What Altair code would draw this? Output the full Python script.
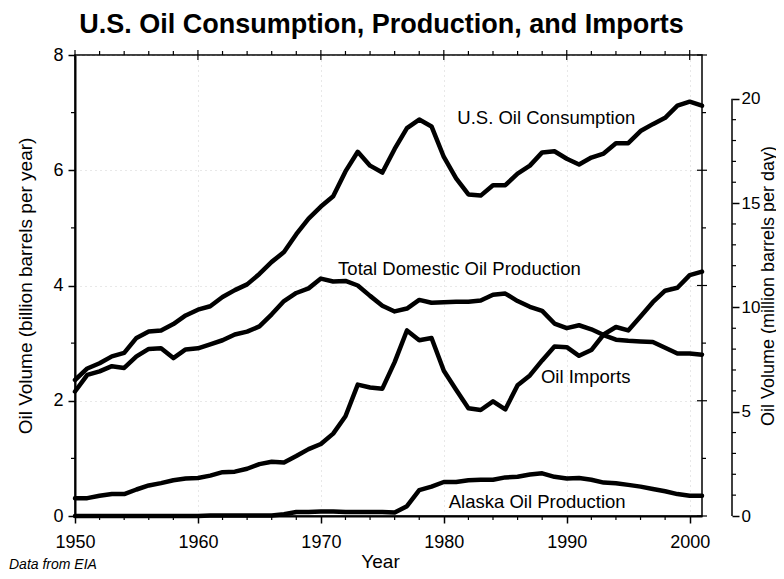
import altair as alt
import pandas as pd

# ---------------- data (billion barrels per year) ----------------
years = list(range(1950, 2002))
consumption = [2.36, 2.56, 2.65, 2.77, 2.83, 3.09, 3.20, 3.22, 3.33, 3.48,
               3.58, 3.64, 3.80, 3.92, 4.02, 4.20, 4.41, 4.58, 4.89, 5.16,
               5.37, 5.55, 5.98, 6.32, 6.08, 5.96, 6.37, 6.73, 6.88, 6.76,
               6.23, 5.86, 5.58, 5.56, 5.74, 5.74, 5.94, 6.08, 6.31, 6.33,
               6.20, 6.10, 6.22, 6.29, 6.47, 6.47, 6.68, 6.80, 6.91, 7.12,
               7.19, 7.12]
production = [2.16, 2.45, 2.51, 2.60, 2.57, 2.77, 2.90, 2.91, 2.74, 2.89,
              2.91, 2.98, 3.05, 3.15, 3.20, 3.29, 3.50, 3.73, 3.87, 3.95,
              4.12, 4.07, 4.08, 4.00, 3.82, 3.65, 3.55, 3.60, 3.75, 3.70,
              3.71, 3.72, 3.72, 3.74, 3.84, 3.86, 3.73, 3.63, 3.56, 3.34,
              3.26, 3.31, 3.24, 3.14, 3.06, 3.04, 3.03, 3.02, 2.92, 2.82,
              2.82, 2.80]
imports = [0.31, 0.31, 0.35, 0.38, 0.38, 0.46, 0.53, 0.57, 0.62, 0.65,
           0.66, 0.70, 0.76, 0.77, 0.82, 0.90, 0.94, 0.93, 1.04, 1.16,
           1.25, 1.43, 1.73, 2.28, 2.23, 2.21, 2.67, 3.22, 3.05, 3.09,
           2.52, 2.19, 1.87, 1.84, 1.99, 1.85, 2.27, 2.44, 2.70, 2.94,
           2.93, 2.78, 2.88, 3.15, 3.28, 3.22, 3.46, 3.71, 3.91, 3.96,
           4.18, 4.24]
alaska = [0.00, 0.00, 0.00, 0.00, 0.00, 0.00, 0.00, 0.00, 0.00, 0.00,
          0.00, 0.01, 0.01, 0.01, 0.01, 0.01, 0.01, 0.03, 0.07, 0.07,
          0.08, 0.08, 0.07, 0.07, 0.07, 0.07, 0.06, 0.17, 0.45, 0.51,
          0.59, 0.59, 0.62, 0.63, 0.63, 0.67, 0.68, 0.72, 0.74, 0.68,
          0.65, 0.66, 0.63, 0.58, 0.57, 0.54, 0.51, 0.47, 0.43, 0.38,
          0.35, 0.35]

series_names = ["Consumption", "Production", "Imports", "Alaska"]

label_texts = ["U.S. Oil Consumption", "Total Domestic Oil Production",
               "Oil Imports", "Alaska Oil Production"]
label_years = [1981.1, 1971.4, 1987.9, 1980.4]
label_values = [6.80, 4.19, 2.31, 0.14]

x_major = [1950, 1960, 1970, 1980, 1990, 2000]
x_minor = [yr for yr in range(1952, 2001, 2) if yr % 10 != 0]
y_major = [0, 2, 4, 6, 8]
y_minor = [1, 3, 5, 7]
right_major = [0, 5, 10, 15, 20]
right_minor = [v for v in range(1, 20) if v % 5 != 0]
RIGHT_MAX = 22.1  # million barrels/day at top of plot

# ---------------- layout ----------------
W, H = 627, 461
FONT = "Liberation Sans"

df = pd.DataFrame({
    "year": years * 4,
    "value": consumption + production + imports + alaska,
    "series": sum([[s] * len(years) for s in series_names], []),
})
labels_df = pd.DataFrame({"year": label_years, "value": label_values, "label": label_texts})

x_scale = alt.Scale(domain=[1950, 2001], nice=False, zero=False)
y_scale = alt.Scale(domain=[0, 8], nice=False)
ry_scale = alt.Scale(domain=[0, RIGHT_MAX], nice=False)

x_axis = alt.Axis(orient="bottom", values=x_major, format="d", tickSize=7, tickWidth=1.5,
                  tickColor="black", labelPadding=10, labelFontSize=18, labelColor="black",
                  labelFlush=False, labelFont=FONT, domainColor="black", domainWidth=2,
                  title="Year", titleFontSize=19, titleFontWeight="normal", titleColor="black",
                  titleFont=FONT, titleX=305, titleY=51, titleBaseline="alphabetic",
                  grid=True, gridDash=[1, 4], gridColor="#999999", gridOpacity=0.45, gridWidth=1)
y_axis = alt.Axis(orient="left", values=y_major, tickSize=7, tickWidth=1.5, tickColor="black",
                  labelPadding=5, labelFontSize=18, labelColor="black", labelFlush=False,
                  labelFont=FONT, domainColor="black", domainWidth=2,
                  title="Oil Volume (billion barrels per year)", titleFontSize=19,
                  titleFontWeight="normal", titleColor="black", titleFont=FONT,
                  titleAngle=270, titleX=-50, titleBaseline="middle",
                  grid=True, gridDash=[1, 4], gridColor="#999999", gridOpacity=0.45, gridWidth=1)
ry_axis = alt.Axis(orient="right", offset=30, values=right_major, domain=False,
                   tickSize=7, tickWidth=1.5, tickColor="black",
                   labelPadding=2, labelFontSize=17, labelColor="black", labelFlush=False,
                   labelFont=FONT,
                   title="Oil Volume (million barrels per day)", titleFontSize=18,
                   titleFontWeight="normal", titleColor="black", titleFont=FONT,
                   titleAngle=270, titleX=36, titleBaseline="middle", grid=False)

lines = alt.Chart(df).mark_line(color="black", strokeWidth=4.5, strokeJoin="round",
                                strokeCap="round").encode(
    x=alt.X("year:Q", scale=x_scale, axis=x_axis),
    y=alt.Y("value:Q", scale=y_scale, axis=y_axis),
    detail="series:N",
)

texts = alt.Chart(labels_df).mark_text(align="left", baseline="alphabetic", fontSize=18.5,
                                       font=FONT, color="black").encode(
    x=alt.X("year:Q", scale=x_scale, axis=x_axis),
    y=alt.Y("value:Q", scale=y_scale, axis=y_axis),
    text="label:N",
)

def yrule(values, scale, axis, x1, x2):
    return alt.Chart(pd.DataFrame({"v": values})).mark_rule(color="black", strokeWidth=1.2).encode(
        y=alt.Y("v:Q", scale=scale, axis=axis), x=alt.value(x1), x2=alt.value(x2))

def xrule(values, y1, y2):
    return alt.Chart(pd.DataFrame({"u": values})).mark_rule(color="black", strokeWidth=1.2).encode(
        x=alt.X("u:Q", scale=x_scale, axis=x_axis), y=alt.value(y1), y2=alt.value(y2))

left_minor = yrule(y_minor, y_scale, y_axis, -4, 0)
right_frame_major = yrule(y_major, y_scale, y_axis, W - 5, W + 5)
right_frame_minor = yrule(y_minor, y_scale, y_axis, W, W + 4)
bottom_minor = xrule(x_minor, H, H + 4)
top_major = xrule(x_major, -5, 5)
top_minor = xrule(x_minor, -4, 0)

source = alt.Chart(pd.DataFrame({"t": ["Data from EIA"]})).mark_text(
    align="left", baseline="alphabetic", fontSize=14, fontStyle="italic", font=FONT, color="black"
).encode(x=alt.value(-66), y=alt.value(514), text="t:N")

main = alt.layer(lines, texts, left_minor, right_frame_major, right_frame_minor,
                 bottom_minor, top_major, top_minor, source)

right_line = alt.Chart(pd.DataFrame({"a": [0], "b": [20]})).mark_rule(color="black", strokeWidth=1.5).encode(
    y=alt.Y("a:Q", scale=ry_scale, axis=ry_axis), y2="b:Q", x=alt.value(W + 30))
right_minor_ticks = yrule(right_minor, ry_scale, ry_axis, W + 30, W + 34)
right = alt.layer(right_line, right_minor_ticks)

chart = alt.layer(main, right).resolve_scale(y="independent").properties(
    width=W, height=H,
    autosize=alt.AutoSizeParams(type="none"),
    padding={"left": 67, "top": 47, "right": 74, "bottom": 55},
    title=alt.TitleParams(text="U.S. Oil Consumption, Production, and Imports", fontSize=27,
                          font=FONT, fontWeight="bold", anchor="middle", frame="group",
                          offset=16, dy=30, baseline="alphabetic", dx=-7, color="black"),
    background="white",
).configure_view(stroke="black", strokeWidth=1.5)

chart.save("out.html", embed_options={"renderer": "svg", "actions": False})
